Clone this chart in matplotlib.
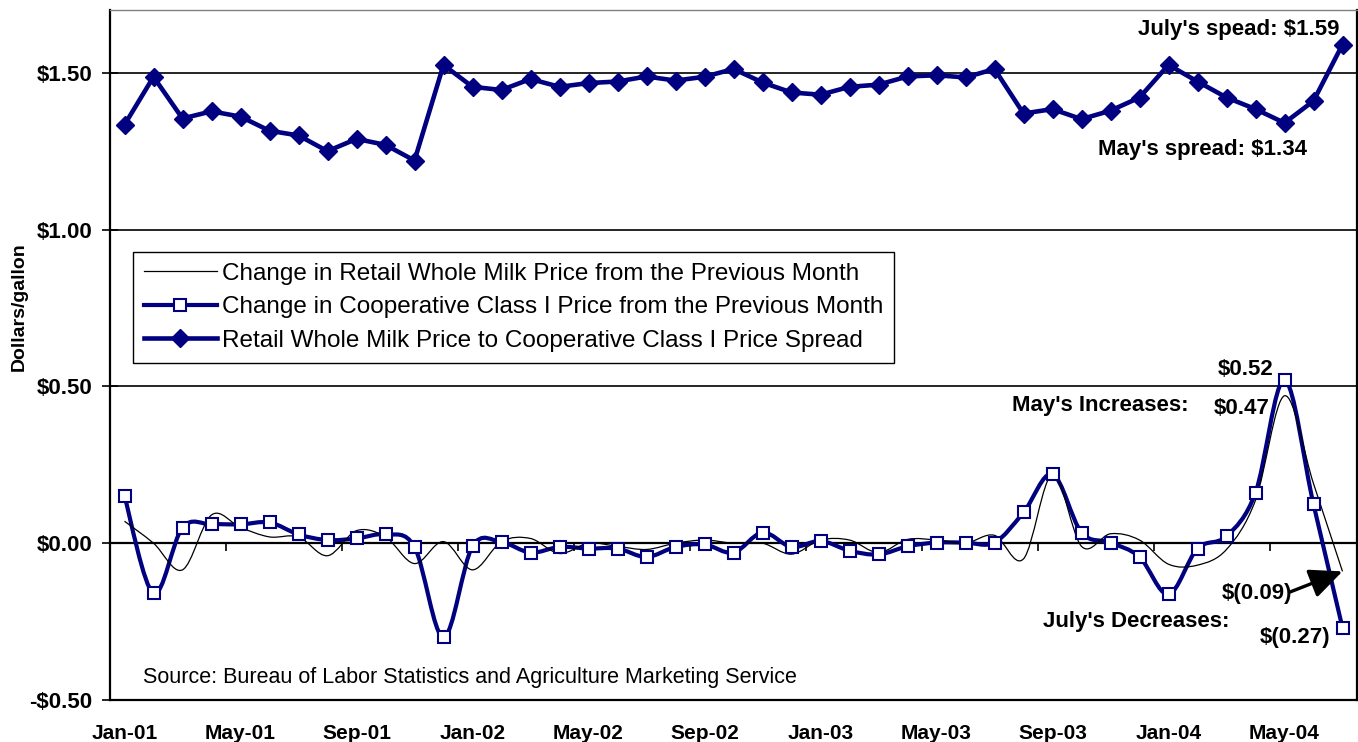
import numpy as np
import pandas as pd
import matplotlib
matplotlib.use("Agg")
import matplotlib.pyplot as plt
from matplotlib.path import Path
from matplotlib.patches import PathPatch
from matplotlib.lines import Line2D
from matplotlib.ticker import FuncFormatter

plt.rcParams['font.family'] = ['Liberation Sans', 'DejaVu Sans']

# ---------------- data ----------------
months = list(pd.date_range('2001-01-01', periods=43, freq='MS').strftime('%b-%y'))

spread = [1.334, 1.487, 1.354, 1.377, 1.360, 1.315, 1.300, 1.250, 1.289, 1.270, 1.220, 1.525,
          1.455, 1.445, 1.480, 1.455, 1.467, 1.472, 1.488, 1.475, 1.487, 1.512, 1.469, 1.437,
          1.430, 1.455, 1.462, 1.488, 1.492, 1.485, 1.512, 1.370, 1.384, 1.352, 1.379, 1.421,
          1.525, 1.472, 1.421, 1.384, 1.340, 1.410, 1.590]

coop_change = [0.15, -0.16, 0.05, 0.06, 0.06, 0.066, 0.028, 0.01, 0.015, 0.028, -0.012, -0.30,
               -0.01, 0.003, -0.03, -0.012, -0.017, -0.017, -0.044, -0.012, -0.004, -0.03, 0.034, -0.012,
               0.007, -0.024, -0.036, -0.01, 0.002, 0.002, 0.002, 0.098, 0.22, 0.034, 0.002, -0.044,
               -0.163, -0.017, 0.022, 0.161, 0.52, 0.124, -0.27]

retail_change = [0.07, 0.00, -0.085, 0.09, 0.05, 0.02, 0.02, -0.04, 0.04, 0.02, -0.065, 0.005,
                 -0.085, 0.005, 0.015, -0.033, 0.0, -0.01, -0.02, 0.0, 0.01, 0.0, 0.0, -0.035,
                 0.01, 0.01, -0.03, 0.012, 0.01, 0.0, 0.025, -0.05, 0.22, -0.01, 0.03, 0.01,
                 -0.067, -0.07, -0.02, 0.137, 0.47, 0.19, -0.09]

tick_labels = ['Jan-01', 'May-01', 'Sep-01', 'Jan-02', 'May-02', 'Sep-02',
               'Jan-03', 'May-03', 'Sep-03', 'Jan-04', 'May-04']

legend_labels = ['Change in Retail Whole Milk Price from the Previous Month',
                 'Change in Cooperative Class I Price from the Previous Month',
                 'Retail Whole Milk Price to Cooperative Class I Price Spread']

NAVY = '#000080'
W, H = 1358, 742


def smooth_path(y):
    """Excel-like smoothed line: cubic Bezier through every data point."""
    y = np.asarray(y, float)
    x = np.arange(len(y), dtype=float)
    P = np.column_stack([x, y])
    Pe = np.vstack([P[0], P, P[-1]])
    verts = [P[0]]
    codes = [Path.MOVETO]
    for i in range(len(P) - 1):
        p0, p1, p2, p3 = Pe[i], Pe[i + 1], Pe[i + 2], Pe[i + 3]
        c1 = p1 + (p2 - p0) / 6.0
        c2 = p2 - (p3 - p1) / 6.0
        verts += [c1, c2, p2]
        codes += [Path.CURVE4] * 3
    return Path(np.array(verts), codes)


fig = plt.figure(figsize=(W / 100, H / 100), dpi=100)
ax = fig.add_axes([110 / W, 1 - 700 / H, (1357 - 110) / W, (700 - 10) / H])
ylo, yhi = -0.5, 1.70
ax.set_xlim(-0.5, len(months) - 0.5)
ax.set_ylim(ylo, yhi)

x = np.arange(len(months))

# retail change (thin black smooth line)
ax.add_patch(PathPatch(smooth_path(retail_change), fill=False, edgecolor='black',
                       lw=0.9, zorder=4, transform=ax.transData))
# coop change (navy smooth line + open squares)
ax.add_patch(PathPatch(smooth_path(coop_change), fill=False, edgecolor=NAVY,
                       lw=3.0, zorder=3, transform=ax.transData, capstyle='round',
                       joinstyle='round'))
ax.plot(x, coop_change, ls='none', marker='s', ms=8.5, mfc='white', mec=NAVY,
        mew=1.5, zorder=5)
# spread (navy thick line + diamonds)
ax.plot(x, spread, color=NAVY, lw=3.3, marker='D', ms=9.5, mfc=NAVY, mec=NAVY,
        zorder=6, solid_joinstyle='round')

# axes styling
ax.set_yticks([-0.5, 0.0, 0.5, 1.0, 1.5])
ax.yaxis.set_major_formatter(FuncFormatter(
    lambda v, p: ('-$%.2f' % abs(v)) if v < 0 else ('$%.2f' % v)))
ax.tick_params(axis='y', direction='inout', length=11, width=1.2, pad=7, labelsize=16)
for t in ax.get_yticklabels():
    t.set_fontweight('bold')
ax.grid(axis='y', color='black', lw=1.2)
ax.set_axisbelow(True)

ax.set_xticks(x[::4])
ax.set_xticklabels(tick_labels, fontsize=15, fontweight='bold')
ax.tick_params(axis='x', length=0, pad=17)

for s in ['left', 'bottom', 'right']:
    ax.spines[s].set_color('black')
    ax.spines[s].set_linewidth(1.6)
ax.spines['top'].set_color('#808080')
ax.spines['top'].set_linewidth(1.0)

# zero line with category tick marks
zpos = (0 - ylo) / (yhi - ylo)
sec = ax.secondary_xaxis(zpos)
sec.set_xticks(np.arange(3.5, len(months), 4))
sec.tick_params(axis='x', direction='out', length=6, width=1.2, labelbottom=False,
                labeltop=False)
for s in sec.spines.values():
    s.set_linewidth(1.6)
    s.set_color('black')


def fx(px):
    return px / W


def fy(py):
    return 1 - py / H


fig.text(fx(19), fy(307), 'Dollars/gallon', rotation=90, ha='center', va='center',
         fontsize=14, fontweight='bold')

# legend
handles = [
    Line2D([], [], color='black', lw=0.9),
    Line2D([], [], color=NAVY, lw=3.0, marker='s', ms=8.5, mfc='white', mec=NAVY, mew=1.5),
    Line2D([], [], color=NAVY, lw=3.3, marker='D', ms=9.5, mfc=NAVY, mec=NAVY),
]
leg = ax.legend(handles, legend_labels, loc='upper left',
                bbox_to_anchor=((133 - 110) / 1247, (700 - 252) / 690),
                fontsize=17.5, frameon=True, fancybox=False, edgecolor='black',
                framealpha=1, handlelength=3.0, handletextpad=0.2,
                labelspacing=0.47, borderpad=0.45, borderaxespad=0)
leg.get_frame().set_linewidth(1.0)

bold = dict(fontsize=16, fontweight='bold', color='black')
fig.text(fx(1340), fy(30), "July's spead: $1.59", ha='right', va='center', **bold)
fig.text(fx(1307), fy(150), "May's spread: $1.34", ha='right', va='center', **bold)
fig.text(fx(1273), fy(370), "$0.52", ha='right', va='center', **bold)
fig.text(fx(1012), fy(406), "May's Increases:", ha='left', va='center', **bold)
fig.text(fx(1270), fy(408), "$0.47", ha='right', va='center', **bold)
fig.text(fx(1292), fy(593), "$(0.09)", ha='right', va='center', **bold)
fig.text(fx(1043), fy(622), "July's Decreases:", ha='left', va='center', **bold)
fig.text(fx(1330), fy(637), "$(0.27)", ha='right', va='center', **bold)
fig.text(fx(143), fy(677), "Source: Bureau of Labor Statistics and Agriculture Marketing Service",
         ha='left', va='center', fontsize=15.5, color='black')

ax.annotate('', xy=(x[-1], retail_change[-1]), xycoords='data',
            xytext=(fx(1290), fy(592)), textcoords='figure fraction',
            arrowprops=dict(arrowstyle='-|>,head_length=1.0,head_width=0.45',
                            color='black', lw=2.4, mutation_scale=20,
                            shrinkA=0, shrinkB=0), zorder=7)

fig.savefig('out.png', dpi=100)
